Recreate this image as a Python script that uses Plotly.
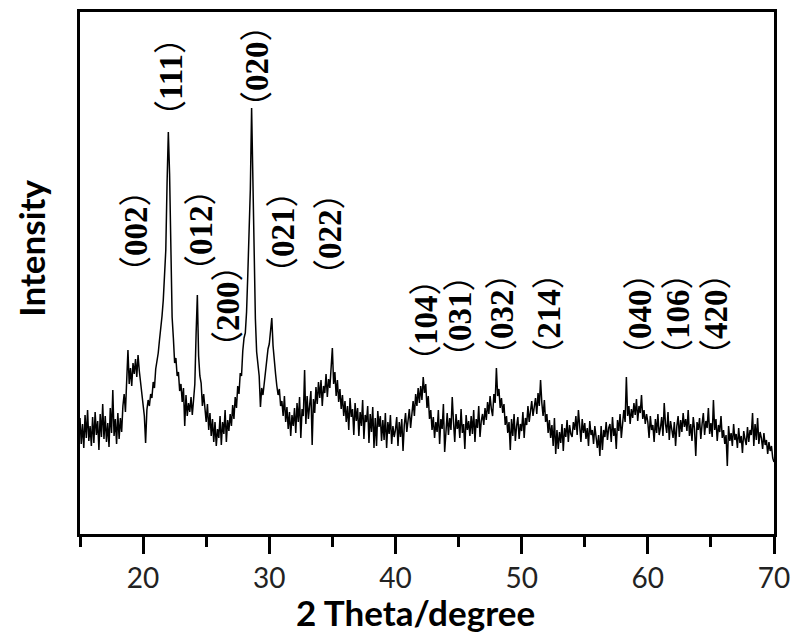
import numpy as np
import pandas as pd
import plotly.express as px

# XRD 圖譜 (2θ = 15.0 ~ 70.0, 每 0.1 度一點)
two_theta = np.round(np.arange(150, 701) / 10, 1)

intensity = [
    116, 90, 110, 86, 119, 96, 124, 93, 108, 88,        # 15
    117, 91, 122, 99, 113, 84, 120, 97, 130, 95,        # 16
    118, 92, 111, 87, 126, 101, 144, 98, 115, 90,       # 17
    121, 95, 116, 102, 128, 140, 122, 158, 184, 150,    # 18
    166, 148, 171, 160, 175, 157, 179, 163, 150, 138,   # 19
    127, 118, 91, 124, 134, 128, 140, 136, 152, 146,    # 20
    165, 172, 181, 194, 205, 218, 234, 258, 284, 351,   # 21
    402, 360, 301, 217, 196, 171, 176, 158, 162, 143,   # 22
    150, 132, 146, 108, 139, 118, 131, 122, 137, 119,   # 23
    134, 150, 200, 239, 178, 158, 151, 128, 140, 124,   # 24
    112, 130, 104, 121, 98, 115, 92, 112, 88, 105,      # 25
    96, 118, 89, 112, 100, 124, 92, 114, 103, 120,      # 26
    108, 129, 115, 137, 126, 148, 140, 161, 158, 183,   # 27
    196, 201, 222, 260, 300, 345, 426, 350, 270, 215,   # 28
    182, 170, 158, 127, 146, 139, 150, 163, 176, 185,   # 29
    190, 205, 216, 188, 170, 160, 148, 139, 145, 128,   # 30
    133, 118, 138, 112, 127, 105, 122, 98, 119, 108,    # 31
    126, 101, 131, 112, 137, 96, 125, 118, 164, 110,    # 32
    138, 115, 129, 143, 89, 135, 121, 147, 130, 152,    # 33
    136, 154, 128, 148, 141, 160, 137, 155, 146, 165,   # 34
    186, 150, 162, 138, 154, 132, 145, 125, 139, 118,   # 35
    133, 112, 128, 104, 136, 117, 125, 99, 131, 113,    # 36
    126, 98, 122, 108, 134, 95, 119, 112, 128, 91,      # 37
    120, 102, 127, 86, 116, 88, 123, 107, 118, 93,      # 38
    114, 94, 121, 86, 112, 100, 119, 90, 108, 97,       # 39
    104, 117, 88, 112, 97, 115, 83, 109, 121, 102,      # 40
    112, 125, 106, 121, 133, 118, 140, 128, 146, 131,   # 41
    148, 134, 157, 141, 150, 126, 138, 115, 124, 104,   # 42
    117, 96, 112, 102, 124, 90, 115, 105, 130, 82,      # 43
    108, 121, 99, 116, 104, 137, 112, 92, 120, 105,     # 44
    114, 96, 125, 101, 110, 85, 119, 104, 113, 98,      # 45
    118, 100, 124, 92, 115, 106, 128, 97, 113, 120,     # 46
    109, 126, 114, 132, 120, 138, 125, 118, 140, 131,   # 47
    166, 138, 145, 126, 136, 121, 130, 109, 118, 101,   # 48
    112, 84, 115, 98, 120, 93, 108, 117, 95, 110,       # 49
    103, 122, 96, 116, 109, 128, 112, 124, 133, 118,    # 50
    127, 136, 120, 141, 128, 154, 131, 118, 134, 112,   # 51
    120, 101, 114, 96, 109, 88, 116, 80, 104, 85,       # 52
    102, 91, 110, 83, 106, 97, 114, 92, 109, 100,       # 53
    97, 112, 104, 118, 99, 124, 108, 92, 115, 101,      # 54
    111, 95, 106, 88, 113, 99, 104, 90, 108, 96,        # 55
    86, 99, 78, 108, 84, 104, 97, 112, 94, 106,         # 56
    110, 92, 117, 98, 106, 85, 114, 103, 120, 96,       # 57
    108, 124, 112, 157, 118, 128, 110, 125, 116, 131,   # 58
    119, 135, 113, 128, 121, 139, 115, 124, 110, 120,   # 59
    112, 96, 118, 104, 109, 92, 115, 101, 120, 99,      # 60
    106, 117, 98, 131, 110, 101, 122, 94, 113, 104,     # 61
    96, 112, 88, 108, 118, 97, 114, 102, 121, 107,      # 62
    115, 103, 124, 98, 110, 93, 117, 105, 78, 112,      # 63
    104, 116, 95, 110, 121, 99, 113, 106, 126, 100,     # 64
    111, 97, 134, 104, 115, 93, 109, 102, 118, 96,      # 65
    104, 90, 99, 68, 108, 93, 101, 88, 110, 94,         # 66
    100, 86, 106, 91, 98, 81, 103, 95, 89, 107,         # 67
    92, 104, 99, 121, 88, 110, 94, 116, 90, 102,        # 68
    96, 85, 101, 89, 94, 80, 92, 83, 88, 76,            # 69
    72,                                                 # 70
]

# 晶面標記
hkl_labels = ['002', '111', '012', '200', '020', '021', '022',
              '104', '031', '032', '214', '040', '106', '420']
hkl_x = [19.2, 21.97, 24.35, 26.5, 28.79, 30.85, 34.57,
         42.18, 44.87, 48.2, 51.92, 59.14, 62.15, 65.16]
hkl_y = [303, 457, 304, 228, 468, 302, 300,
         214, 218, 220, 220, 220, 220, 220]

df = pd.DataFrame({'2 Theta': two_theta, 'Intensity': intensity})

fig = px.line(df, x='2 Theta', y='Intensity')
fig.update_traces(line=dict(color='black', width=1.5))

paren = '<span style="font-family:Noto Sans CJK SC;font-weight:normal">{}</span>'
for lab, x, y in zip(hkl_labels, hkl_x, hkl_y):
    fig.add_annotation(x=x, y=y, text=paren.format('（') + lab + paren.format('）'),
                       textangle=-90, showarrow=False, xanchor='center', yanchor='middle',
                       font=dict(family='Liberation Serif', size=33, color='black', weight='bold'))

# 座標軸標題
fig.add_annotation(x=0.484, y=-0.149, xref='paper', yref='paper', text='<b>2 Theta/degree</b>',
                   showarrow=False, xanchor='center', yanchor='middle',
                   font=dict(family='Lato', size=35, color='black'))
fig.add_annotation(x=-0.071, y=0.548, xref='paper', yref='paper', text='<b>Intensity</b>',
                   textangle=-90, showarrow=False, xanchor='center', yanchor='middle',
                   font=dict(family='Lato', size=35, color='black'))

# 頁面預設有 8px 邊距，圖面尺寸相應縮小
fig.update_layout(
    width=792, height=633,
    margin=dict(l=72, r=26, t=4, b=107, autoexpand=False),
    plot_bgcolor='white', paper_bgcolor='white',
    showlegend=False,
    font=dict(family='Lato', size=28, color='#222'),
)
fig.update_xaxes(range=[15, 70], tick0=0, dtick=10, ticks='outside', ticklen=17, tickwidth=3,
                 tickcolor='black', showline=True, linewidth=3, linecolor='black', mirror=True,
                 showgrid=False, zeroline=False, title=None, automargin=False,
                 minor=dict(dtick=5, ticks='outside', ticklen=10, tickwidth=3, tickcolor='black'))
fig.update_yaxes(range=[0, 522], showticklabels=False, ticks='', showline=True, linewidth=3,
                 linecolor='black', mirror=True, showgrid=False, zeroline=False, title=None,
                 automargin=False)

fig.write_html('out.html')
